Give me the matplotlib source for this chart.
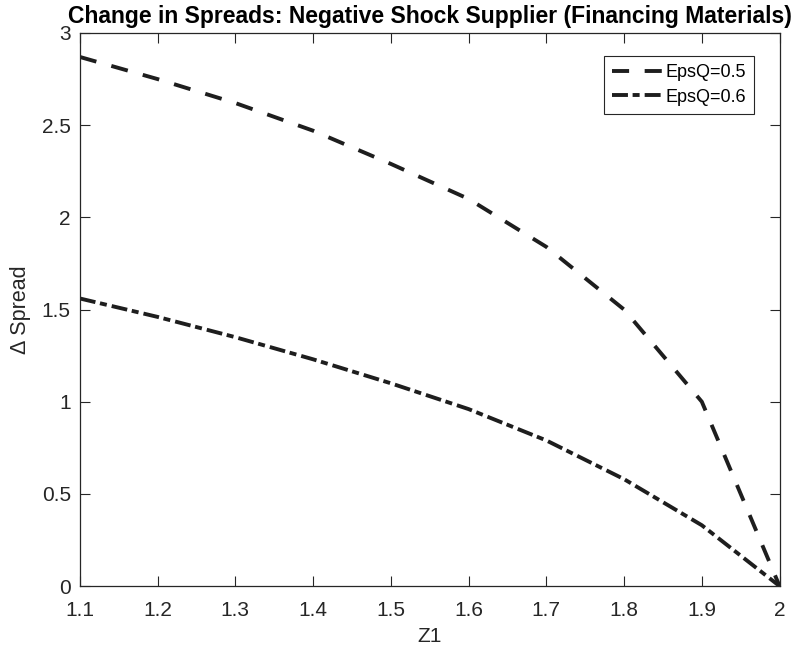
import matplotlib
matplotlib.use('Agg')
import matplotlib.pyplot as plt

# Spread changes for two values of EpsQ
z1 = [1.1, 1.2, 1.3, 1.4, 1.5, 1.6, 1.7, 1.8, 1.9, 2.0]
spread_eps05 = [2.87, 2.75, 2.62, 2.47, 2.29, 2.10, 1.84, 1.50, 1.00, 0.0]
spread_eps06 = [1.56, 1.46, 1.35, 1.23, 1.10, 0.96, 0.79, 0.58, 0.33, 0.0]
labels = ['EpsQ=0.5', 'EpsQ=0.6']

plt.rcParams['font.family'] = ['Liberation Sans', 'DejaVu Sans']
gray = '#262626'
line_col = '#1e1e1e'

fig = plt.figure(figsize=(8.07, 6.6), dpi=100)
ax = fig.add_axes([0.099, 0.112, 0.867, 0.838])

lw = 2.8
ax.plot(z1, spread_eps05, color=line_col, lw=lw, dashes=(4.4, 4.0), label=labels[0])
ax.plot(z1, spread_eps06, color=line_col, lw=lw, dashes=(4.1, 1.2, 1.8, 1.3), label=labels[1])

ax.set_xlim(1.1, 2.0)
ax.set_ylim(0, 3)
ax.set_xticks([1.1, 1.2, 1.3, 1.4, 1.5, 1.6, 1.7, 1.8, 1.9, 2.0])
ax.set_xticklabels(['1.1', '1.2', '1.3', '1.4', '1.5', '1.6', '1.7', '1.8', '1.9', '2'])
ax.set_yticks([0, 0.5, 1, 1.5, 2, 2.5, 3])
ax.set_yticklabels(['0', '0.5', '1', '1.5', '2', '2.5', '3'])

ax.tick_params(direction='in', top=True, right=True, length=7, width=0.8,
               colors=gray, labelsize=15)
ax.tick_params(axis='x', pad=10.5)
ax.tick_params(axis='y', pad=6.5)
for sp in ax.spines.values():
    sp.set_color(gray)
    sp.set_linewidth(0.9)

ax.set_xlabel('Z1', fontsize=15, color=gray, labelpad=5)
ax.set_ylabel('Δ Spread', fontsize=15.5, color=gray, labelpad=8)
ax.set_title('Change in Spreads: Negative Shock Supplier (Financing Materials)',
             fontsize=16.5, fontweight='bold', color='black', pad=7)

leg = ax.legend(loc='upper right', fontsize=13, handlelength=2.8, handletextpad=0.15,
                borderpad=0.45, labelspacing=0.4, fancybox=False, framealpha=1,
                borderaxespad=0, bbox_to_anchor=(0.964, 0.958))
leg.get_frame().set_edgecolor(gray)
leg.get_frame().set_linewidth(0.8)

fig.savefig('out.png', dpi=100)
